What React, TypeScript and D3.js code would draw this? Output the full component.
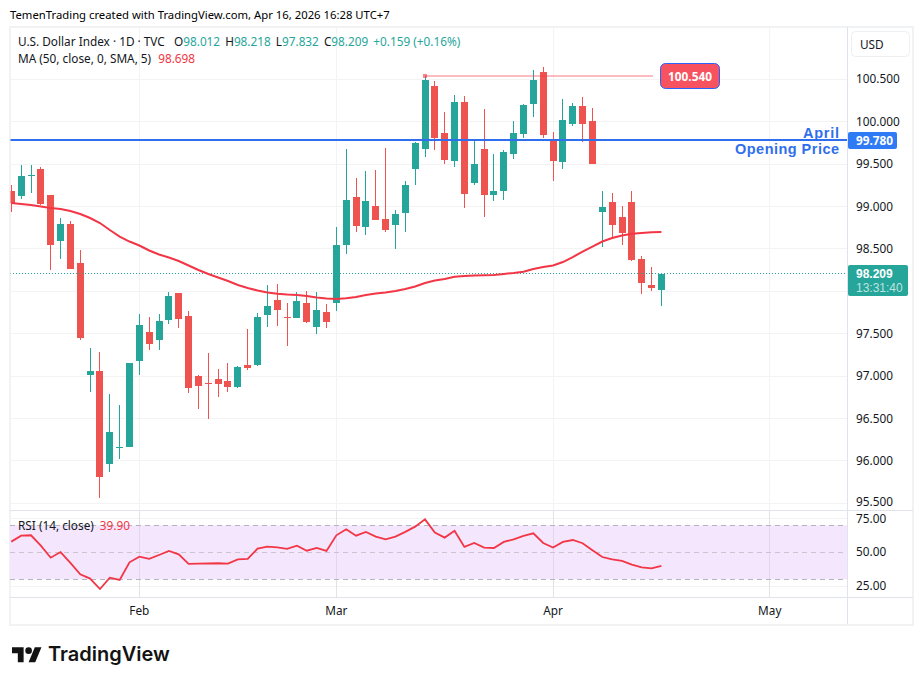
import React from 'react';
import * as d3 from 'd3';

const width = 923;
const height = 685;

// daily candles
const opens = [
  99.183, 99.127, 99.360, 99.442, 99.136, 98.593, 98.794, 98.334, 97.013, 97.060,
  95.964, 96.155, 96.164, 97.178, 97.520, 97.426, 97.662, 97.980, 97.709, 97.001,
  96.920, 96.966, 96.942, 96.871, 97.131, 97.131, 97.721, 97.897, 97.700, 97.685,
  97.862, 97.579, 97.756, 97.862, 98.546, 99.112, 98.758, 99.006, 98.853, 98.782,
  98.923, 99.442, 99.678, 100.421, 99.867, 99.536, 100.232, 99.277, 99.678, 99.136,
  99.183, 99.619, 99.855, 100.209, 100.586, 99.784, 99.525, 99.973, 100.185, 100.008,
  98.935, 99.053, 98.876, 99.053, 98.381, 98.074, 98.012,
];
const highs = [
  99.253, 99.489, 99.489, 99.469, 99.136, 98.861, 98.829, 98.487, 97.331, 97.284,
  96.789, 96.659, 97.160, 97.732, 97.697, 97.732, 97.992, 97.980, 97.768, 97.013,
  97.272, 97.084, 97.155, 97.119, 97.555, 97.744, 98.074, 98.086, 97.862, 97.988,
  98.004, 97.988, 97.850, 98.758, 99.678, 99.336, 99.419, 99.430, 99.690, 98.959,
  99.301, 99.761, 100.539, 100.480, 100.114, 100.315, 100.303, 99.784, 100.150, 99.619,
  99.666, 100.008, 100.209, 100.610, 100.645, 99.878, 100.268, 100.220, 100.291, 100.161,
  99.183, 99.159, 99.006, 99.183, 98.416, 98.287, 98.218,
];
const lows = [
  98.939, 99.088, 99.163, 99.020, 98.251, 98.381, 98.260, 97.426, 96.813, 95.563,
  95.869, 96.022, 96.160, 97.013, 97.308, 97.308, 97.614, 97.567, 96.801, 96.612,
  96.494, 96.754, 96.813, 96.865, 97.072, 97.119, 97.579, 97.591, 97.355, 97.680,
  97.626, 97.496, 97.567, 97.768, 98.440, 98.699, 98.664, 98.835, 98.699, 98.499,
  98.699, 99.253, 99.584, 99.666, 99.501, 99.466, 98.982, 99.253, 98.876, 99.065,
  99.077, 99.560, 99.808, 100.055, 99.808, 99.301, 99.442, 99.949, 99.761, 99.500,
  98.522, 98.629, 98.546, 98.360, 97.968, 98.004, 97.832,
];
const closes = [
  99.038, 99.360, 99.375, 99.029, 98.546, 98.794, 98.263, 97.449, 97.060, 95.810,
  96.341, 96.165, 97.154, 97.603, 97.379, 97.650, 97.945, 97.673, 96.860, 96.883,
  96.910, 96.907, 96.871, 97.107, 97.096, 97.697, 97.827, 97.779, 97.690, 97.886,
  97.638, 97.779, 97.638, 98.546, 99.077, 98.770, 99.065, 98.841, 98.723, 98.912,
  99.253, 99.749, 100.492, 99.808, 99.548, 100.232, 99.147, 99.501, 99.136, 99.183,
  99.643, 99.867, 100.197, 100.492, 99.843, 99.536, 100.020, 100.185, 99.973, 99.501,
  98.994, 98.782, 98.687, 98.369, 98.098, 98.039, 98.209,
];
const maValues = [
  99.041, 99.029, 99.018, 99.000, 98.982, 98.970, 98.947, 98.912, 98.864, 98.805,
  98.723, 98.646, 98.587, 98.540, 98.481, 98.434, 98.399, 98.357, 98.304, 98.251,
  98.204, 98.163, 98.121, 98.074, 98.039, 98.009, 97.986, 97.971, 97.962, 97.956,
  97.945, 97.927, 97.915, 97.909, 97.917, 97.933, 97.956, 97.974, 97.986, 98.004,
  98.027, 98.057, 98.098, 98.127, 98.145, 98.172, 98.180, 98.186, 98.190, 98.192,
  98.204, 98.216, 98.231, 98.263, 98.287, 98.304, 98.345, 98.404, 98.467, 98.528,
  98.587, 98.629, 98.658, 98.678, 98.688, 98.696, 98.698,
];
const rsiValues = [
  57.9, 62.3, 62.6, 54.9, 46.0, 50.2, 42.1, 33.7, 30.5, 22.8,
  31.2, 29.5, 42.6, 46.8, 45.1, 48.0, 51.0, 48.5, 41.4, 41.6,
  41.7, 41.9, 41.6, 44.8, 45.1, 52.7, 54.2, 53.7, 52.5, 54.9,
  51.2, 53.2, 51.0, 62.6, 67.0, 62.3, 65.1, 61.6, 59.6, 61.6,
  65.1, 69.0, 74.4, 64.6, 60.9, 66.0, 54.0, 56.9, 53.5, 53.2,
  57.7, 59.6, 62.1, 64.1, 56.9, 53.5, 57.7, 59.1, 56.7, 51.5,
  46.5, 44.8, 43.6, 40.9, 38.9, 38.1, 39.9,
];

const priceTicks = [95.5, 96, 96.5, 97, 97.5, 98, 98.5, 99, 99.5, 100, 100.5];
const rsiTicks = [25, 50, 75];
const rsiBands = [30, 50, 70];
// month label and the candle index it sits on
const monthLabels = ['Feb', 'Mar', 'Apr', 'May'];
const monthIndex = [13, 33, 55, 77];

const aprilOpen = 99.78;
const lastClose = 98.209;
const resistance = 100.54;
const resistanceFrom = 42;

const GREEN = '#26a69a';
const RED = '#ef5350';
const LINE_RED = '#f23645';
const BLUE = '#2f6fed';
const GRID = '#f3f3f3';
const BORDER = '#e0e3eb';
const TEXT = '#131722';
const FONT = '"Noto Sans", sans-serif';
const TIGHT_FONT = '"Liberation Sans", sans-serif';

const x = d3.scaleLinear().domain([0, 66]).range([11.3, 661.4]);
const y = d3.scaleLinear().domain([95.5, 100.5]).range([503.3, 79.3]);
const yRsi = d3.scaleLinear().domain([30, 70]).range([579.3, 525.3]);

const px = (i: number) => Math.floor(x(i));
const fmt = d3.format('.3f');

const maLine = d3.line<number>().x((_, i) => x(i)).y(d => y(d));
const rsiLine = d3.line<number>().x((_, i) => x(i)).y(d => yRsi(d));

export default function App() {
  return (
    <svg
      width={width}
      height={height}
      viewBox={`0 0 ${width} ${height}`}
      style={{ position: 'absolute', left: 0, top: 0, display: 'block', background: '#fff' }}
      fontFamily={FONT}
    >
      <defs>
        <clipPath id="pane">
          <rect x={10.5} y={27} width={836.5} height={570} />
        </clipPath>
      </defs>

      <text x={10} y={19} fontSize={11.3} fill="#000">
        TemenTrading created with TradingView.com, Apr 16, 2026 16:28 UTC+7
      </text>

      {/* frame */}
      <rect x={10} y={27} width={903} height={598} fill="#fff" stroke="#f1f2f4" strokeWidth={2} />

      {/* grid */}
      {priceTicks.map(t => (
        <line key={t} x1={10} x2={847} y1={Math.floor(y(t)) + 0.5} y2={Math.floor(y(t)) + 0.5} stroke={GRID} />
      ))}
      {monthIndex.map(i => (
        <line key={i} x1={Math.floor(x(i)) + 0.5} x2={Math.floor(x(i)) + 0.5} y1={27} y2={597} stroke={GRID} />
      ))}

      {/* RSI pane background */}
      <rect x={10} y={yRsi(70)} width={837} height={yRsi(30) - yRsi(70)} fill="#f4e6fd" />
      {rsiTicks.filter(t => t !== 50).map(t => (
        <line key={t} x1={10} x2={847} y1={Math.floor(yRsi(t)) + 0.5} y2={Math.floor(yRsi(t)) + 0.5} stroke={GRID} />
      ))}
      {monthIndex.map(i => (
        <line key={i} x1={Math.floor(x(i)) + 0.5} x2={Math.floor(x(i)) + 0.5} y1={511} y2={597} stroke="#00000010" />
      ))}
      {rsiBands.map(t => (
        <line
          key={t}
          x1={10}
          x2={847}
          y1={Math.floor(yRsi(t)) + 0.5}
          y2={Math.floor(yRsi(t)) + 0.5}
          stroke={t === 50 ? '#c9c4d0' : '#b2b5be'}
          strokeDasharray="5 4"
        />
      ))}

      {/* pane separators and axis lines */}
      <line x1={10} x2={913} y1={510.5} y2={510.5} stroke={BORDER} />
      <line x1={10} x2={913} y1={597.5} y2={597.5} stroke={BORDER} />
      <line x1={847.5} x2={847.5} y1={27} y2={624} stroke={BORDER} />

      <g clipPath="url(#pane)">
        {/* candles */}
        {closes.map((c, i) => {
          const color = c >= opens[i] ? GREEN : RED;
          const top = Math.round(y(Math.max(opens[i], c)));
          const bottom = Math.round(y(Math.min(opens[i], c)));
          return (
            <g key={i} fill={color}>
              <rect x={px(i)} y={Math.round(y(highs[i]))} width={1} height={Math.round(y(lows[i])) - Math.round(y(highs[i]))} />
              <rect x={px(i) - 3} y={top} width={7} height={Math.max(1, bottom - top)} />
            </g>
          );
        })}

        {/* last price */}
        <line x1={10} x2={847} y1={Math.floor(y(lastClose)) + 0.5} y2={Math.floor(y(lastClose)) + 0.5} stroke={GREEN} strokeDasharray="1 2" />

        {/* April open */}
        <line x1={10} x2={847} y1={Math.round(y(aprilOpen))} y2={Math.round(y(aprilOpen))} stroke={BLUE} strokeWidth={2} />

        {/* moving average */}
        <path d={maLine(maValues) ?? ''} fill="none" stroke={LINE_RED} strokeWidth={2} />

        {/* resistance line */}
        <line x1={x(resistanceFrom)} x2={653} y1={y(resistance)} y2={y(resistance)} stroke={LINE_RED} strokeOpacity={0.33} strokeWidth={2} />
        <rect x={x(resistanceFrom) - 2} y={y(resistance) - 2} width={4} height={4} fill={LINE_RED} fillOpacity={0.6} />

        {/* RSI */}
        <path d={rsiLine(rsiValues) ?? ''} fill="none" stroke={LINE_RED} strokeWidth={1.8} />
      </g>

      {/* callout */}
      <rect x={660.5} y={63.5} width={59} height={25} rx={5} fill="#f7525f" stroke="#2962ff" />
      <text x={690} y={80.5} fontSize={11.8} fontWeight={700} fill="#fff" textAnchor="middle">
        {fmt(resistance)}
      </text>

      {/* drawing label */}
      <g fill={BLUE} fontFamily={TIGHT_FONT} fontSize={14.5} fontWeight={700} textAnchor="end">
        <text x={839} y={137.5} textLength={36}>April</text>
        <text x={839} y={154.2} textLength={104}>Opening Price</text>
      </g>

      {/* legend */}
      <text x={18} y={46} fontSize={11.8} fill={TEXT}>
        U.S. Dollar Index · 1D · TVC
      </text>
      <text x={174} y={46} fontSize={11.8} fill={TEXT}>
        O<tspan fill={GREEN}>{fmt(opens[66])}</tspan>
        <tspan dx={5}>H</tspan><tspan fill={GREEN}>{fmt(highs[66])}</tspan>
        <tspan dx={5}>L</tspan><tspan fill={GREEN}>{fmt(lows[66])}</tspan>
        <tspan dx={5}>C</tspan><tspan fill={GREEN}>{fmt(closes[66])}</tspan>
        <tspan dx={5} fill={GREEN}>+0.159 (+0.16%)</tspan>
      </text>
      <text x={18} y={63} fontSize={11.8} fill={TEXT}>
        MA (50, close, 0, SMA, 5)
        <tspan dx={7} fill={LINE_RED}>{fmt(maValues[66])}</tspan>
      </text>
      <text x={18} y={530} fontSize={11.8} fill={TEXT}>
        RSI (14, close)
        <tspan dx={6} fill={LINE_RED}>{rsiValues[66].toFixed(2)}</tspan>
      </text>

      {/* price axis, the 98.000 tick sits behind the last price label */}
      <rect x={851.5} y={31.5} width={58} height={25} rx={4} fill="#fff" stroke="#eeeff2" />
      <text x={860} y={49} fontSize={11.8} fill={TEXT}>USD</text>
      {priceTicks.filter(t => t !== 98).map(t => (
        <text key={t} x={856} y={y(t) + (t === 95.5 ? 3 : 4)} fontSize={11.8} fill={TEXT}>{fmt(t)}</text>
      ))}
      {rsiTicks.map(t => (
        <text key={t} x={856} y={yRsi(t) + 4} fontSize={11.8} fill={TEXT}>{t.toFixed(2)}</text>
      ))}

      <rect x={848} y={132} width={49} height={17} rx={2} fill="#2f7bf5" />
      <text x={856} y={145} fontSize={11.8} fontWeight={700} fill="#fff">{fmt(aprilOpen)}</text>

      <rect x={848} y={265} width={60} height={31} rx={2} fill={GREEN} />
      <text x={856} y={278} fontFamily={TIGHT_FONT} fontSize={12} fontWeight={700} fill="#fff">{fmt(lastClose)}</text>
      <text x={856} y={292} fontFamily={TIGHT_FONT} fontSize={12} fill="#fff" fillOpacity={0.7}>13:31:40</text>

      {/* time axis */}
      {monthLabels.map((m, i) => (
        <text key={m} x={x(monthIndex[i])} y={615} fontSize={11.8} fill={TEXT} textAnchor="middle">{m}</text>
      ))}

      {/* logo */}
      <g transform="translate(12,644) scale(0.83)" fill="#131313">
        <path d="M14 22H7V11H0V4h14v18zM28 22h-8l7.5-18h8L28 22z" />
        <circle cx={20} cy={8} r={4} />
      </g>
      <text x={48} y={661} fontSize={20} fontWeight={600} fill="#131313" fontFamily='"Inter", sans-serif'>TradingView</text>
    </svg>
  );
}
